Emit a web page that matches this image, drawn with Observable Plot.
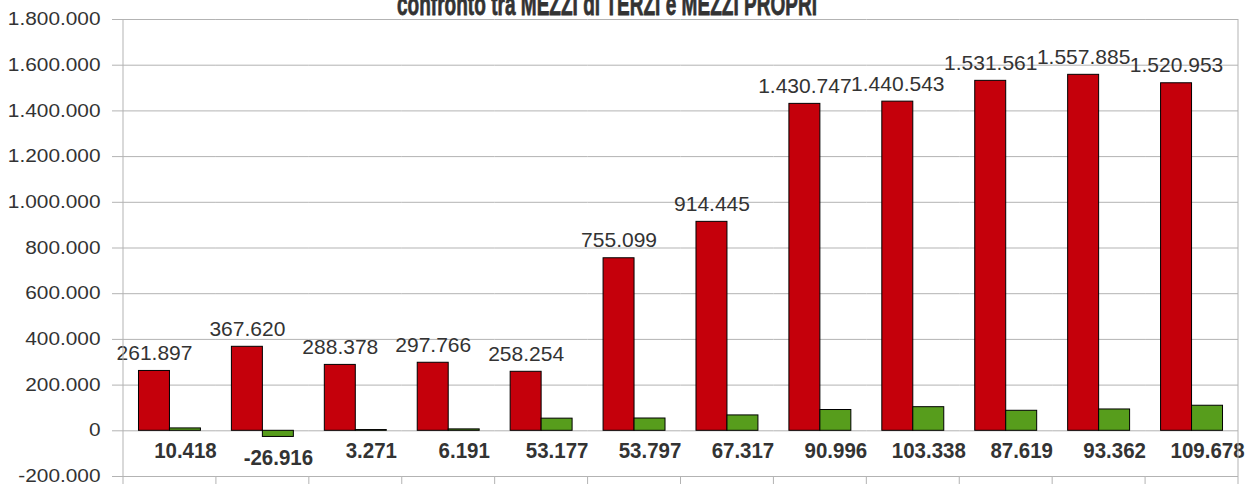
<!DOCTYPE html>
<html>
<head>
<meta charset="utf-8">
<script src="https://cdn.jsdelivr.net/npm/d3@7"></script>
<script src="https://cdn.jsdelivr.net/npm/@observablehq/plot@0.6"></script>
<style>
  html, body { margin: 0; padding: 0; background: #ffffff; }
  #chart svg { display: block; overflow: visible; }
</style>
</head>
<body>
<div id="chart"></div>
<script>
// ---- data ----
const title = "confronto tra MEZZI di TERZI e MEZZI PROPRI";
const categories = ["1", "2", "3", "4", "5", "6", "7", "8", "9", "10", "11", "12"];
const seriesNames = ["MEZZI di TERZI", "MEZZI PROPRI"];
const mezziTerzi = [261897, 367620, 288378, 297766, 258254, 755099, 914445, 1430747, 1440543, 1531561, 1557885, 1520953];
const mezziPropri = [10418, -26916, 3271, 6191, 53177, 53797, 67317, 90996, 103338, 87619, 93362, 109678];
const yTicks = [-200000, 0, 200000, 400000, 600000, 800000, 1000000, 1200000, 1400000, 1600000, 1800000];
const seriesColors = ["#c5000b", "#579d1c"];

const rows = categories.flatMap((c, i) => [
  {cat: c, serie: seriesNames[0], value: mezziTerzi[i]},
  {cat: c, serie: seriesNames[1], value: mezziPropri[i]}
]);

const itLocale = d3.formatLocale({decimal: ",", thousands: ".", grouping: [3], currency: ["", " €"], minus: "-"});
const fmt = itLocale.format(",d");

const W = 1246, H = 484;
const chart = Plot.plot({
  width: W,
  height: H,
  marginLeft: 123,
  marginRight: 8,
  marginTop: 19,
  marginBottom: 8,
  style: {fontFamily: "'Liberation Sans', Arial, sans-serif", background: "#ffffff", color: "#333333", overflow: "visible"},
  fx: {domain: categories, padding: 0, round: false, axis: null},
  x: {domain: seriesNames, paddingInner: 0, paddingOuter: 0.5, round: false, axis: null},
  y: {domain: [-200000, 1800000]},
  color: {domain: seriesNames, range: seriesColors},
  marks: [
    Plot.gridY(yTicks, {stroke: "#b3b3b3", strokeOpacity: 1, strokeWidth: 1}),
    Plot.axisY(yTicks, {tickFormat: fmt, tickSize: 11, tickPadding: 12, fontSize: 17.5, stroke: "#b3b3b3", color: "#333333", label: null}),
    Plot.barY(rows, {fx: "cat", x: "serie", y: "value", fill: "serie", stroke: "#000000", strokeWidth: 1}),
    Plot.text(rows.filter(d => d.serie === seriesNames[0]), {
      fx: "cat", x: "serie", y: "value", text: d => fmt(d.value),
      lineAnchor: "bottom", dy: -11, fontSize: 21, fill: "#333333"
    }),
    Plot.text(rows.filter(d => d.serie === seriesNames[1]), {
      fx: "cat", x: "serie", y: d => Math.min(0, d.value), text: d => fmt(d.value),
      lineAnchor: "top", dy: 12, fontSize: 22, fontWeight: "bold", fill: "#333333",
      className: "green-labels"
    })
  ]
});

document.getElementById("chart").appendChild(chart);

const svg = d3.select(chart.tagName.toLowerCase() === "svg" ? chart : chart.querySelector("svg"));

// y tick labels: wide, short glyphs as in the reference
svg.selectAll("g[aria-label='y-axis tick label'] text").each(function () {
  const len = this.getComputedTextLength();
  d3.select(this).attr("textLength", len * 1.19).attr("lengthAdjust", "spacingAndGlyphs");
});
// green labels: slightly condensed
svg.selectAll(".green-labels text").each(function () {
  const len = this.getComputedTextLength();
  d3.select(this).attr("textLength", len * 0.93).attr("lengthAdjust", "spacingAndGlyphs");
});

// ---- frame lines and category separators, placed with Plot's own scales ----
const fxS = chart.scale("fx");
const yS = chart.scale("y");
const yTop = yS.apply(1800000);
const yBot = yS.apply(-200000);
const step = (fxS.range[1] - fxS.range[0]) / categories.length;
const bounds = d3.range(categories.length + 1).map(i => fxS.range[0] + i * step);
const g = svg.append("g").attr("stroke", "#b3b3b3").attr("stroke-width", 1);
g.append("line").attr("x1", bounds[0]).attr("x2", bounds[0]).attr("y1", yTop).attr("y2", H);
g.append("line").attr("x1", bounds[bounds.length - 1]).attr("x2", bounds[bounds.length - 1]).attr("y1", yTop).attr("y2", H);
g.selectAll("line.sep").data(bounds.slice(1, -1)).join("line").attr("class", "sep")
  .attr("x1", d => d).attr("x2", d => d).attr("y1", yBot).attr("y2", H);

// ---- title (partly cut at top, as in the reference) ----
svg.append("text")
  .attr("x", 607).attr("y", 15)
  .attr("text-anchor", "middle")
  .style("font-family", "'Liberation Sans', Arial, sans-serif")
  .style("font-weight", "bold")
  .style("font-size", "32px")
  .attr("fill", "#333333")
  .attr("stroke", "#333333")
  .attr("stroke-width", 0.8)
  .attr("textLength", 420)
  .attr("lengthAdjust", "spacingAndGlyphs")
  .text(title);
</script>
</body>
</html>
